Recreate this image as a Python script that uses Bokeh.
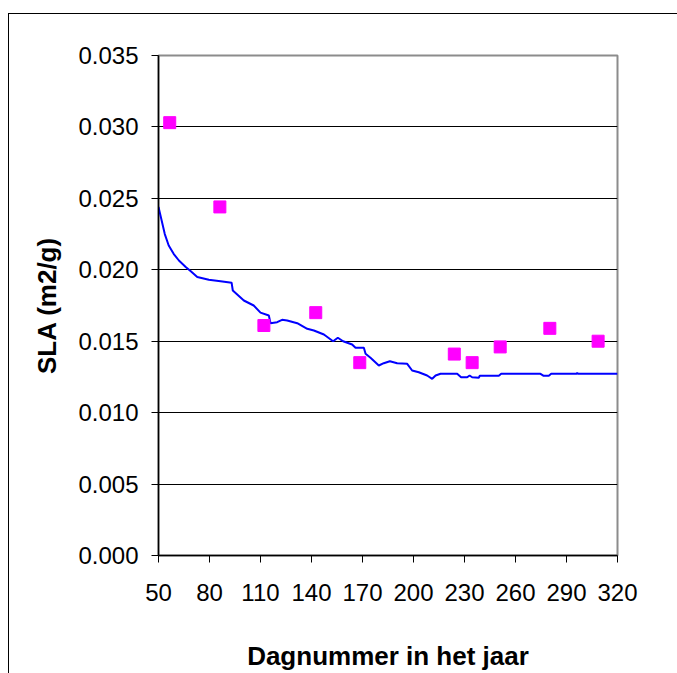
from bokeh.plotting import figure
from bokeh.models import FixedTicker, NumeralTickFormatter, Range1d
from bokeh.embed import file_html
from bokeh.resources import INLINE

# Measured SLA (squares)
obs_day = [56.6, 86.1, 112.0, 142.5, 168.4, 224.0, 234.5, 251.0, 280.2, 308.6]
obs_sla = [0.0303, 0.0244, 0.0161, 0.0170, 0.0135, 0.0141, 0.0135, 0.0146, 0.0159, 0.0150]

# Simulated SLA (line)
sim_day = [50, 53.7, 56, 59, 62, 66, 69, 72.8, 79.6, 86.5, 93, 93.7, 100.2, 106, 110,
           114.9, 115.9, 119.8, 122.7, 125.7, 131.6, 137.5, 141.4, 147.3, 152.7, 155.5,
           158.6, 163.9, 165.9, 170.8, 171.8, 174.7, 179.6, 182.5, 186.1, 190.4, 196.3,
           199.2, 203.1, 208, 211, 213, 215.9, 225.7, 228, 231.6, 233, 234.5, 238.4, 239,
           250.2, 251.6, 274.7, 276.6, 279.6, 281, 296, 296.3, 296.6, 320]
sim_sla = [0.0244, 0.0225, 0.0217, 0.0211, 0.02065, 0.0202, 0.0199, 0.0195, 0.0193, 0.0192,
           0.0191, 0.01855, 0.01785, 0.0175, 0.0170, 0.0168, 0.01626, 0.01633, 0.0165,
           0.01645, 0.01626, 0.01587, 0.01575, 0.01547, 0.0150, 0.01524, 0.0150, 0.01477,
           0.01454, 0.01454, 0.01412, 0.01384, 0.0133, 0.01346, 0.0136, 0.01346, 0.01342,
           0.01295, 0.01283, 0.0126, 0.01237, 0.0126, 0.01272, 0.01272, 0.01248, 0.01248,
           0.0126, 0.01248, 0.01244, 0.01258, 0.01258, 0.01272, 0.01272, 0.01258, 0.01258,
           0.01272, 0.01272, 0.0128, 0.01272, 0.01272]

x_ticks = [50, 80, 110, 140, 170, 200, 230, 260, 290, 320]
y_ticks = [0.0, 0.005, 0.010, 0.015, 0.020, 0.025, 0.030, 0.035]

FONT = "Liberation Sans"

p = figure(frame_width=459, frame_height=500,
           min_border_left=149, min_border_right=60,
           min_border_top=41, min_border_bottom=118,
           x_range=Range1d(50, 320), y_range=Range1d(0, 0.035),
           output_backend="svg", toolbar_location=None)
p.styles = {"border-left": "1px solid #000000", "border-top": "1px solid #000000",
            "margin-top": "13px", "margin-left": "8px"}

p.background_fill_color = "white"
p.border_fill_color = "white"
p.outline_line_color = "#8c8c8c"
p.outline_line_width = 2

p.xgrid.visible = False
p.ygrid.grid_line_color = "black"
p.ygrid.grid_line_width = 1
p.ygrid.ticker = FixedTicker(ticks=y_ticks)

p.xaxis.ticker = FixedTicker(ticks=x_ticks)
p.yaxis.ticker = FixedTicker(ticks=y_ticks)
p.yaxis.formatter = NumeralTickFormatter(format="0.000")

for ax in (p.xaxis, p.yaxis):
    ax.axis_line_color = "black"
    ax.axis_line_width = 1.5
    ax.major_tick_line_color = "black"
    ax.major_tick_out = 7
    ax.major_tick_in = 0
    ax.minor_tick_line_color = None
    ax.major_label_text_font = FONT
    ax.major_label_text_font_size = "24px"
    ax.major_label_text_color = "black"
    ax.axis_label_text_font = FONT
    ax.axis_label_text_font_size = "26px"
    ax.axis_label_text_font_style = "bold"
    ax.axis_label_text_color = "black"

p.xaxis.axis_label = "Dagnummer in het jaar"
p.yaxis.axis_label = "SLA (m2/g)"
p.xaxis.major_label_standoff = 21
p.yaxis.major_label_standoff = 13
p.xaxis.axis_label_standoff = 37
p.yaxis.axis_label_standoff = 13

p.line(sim_day, sim_sla, line_color="#0000ff", line_width=2)
p.scatter(obs_day, obs_sla, marker="square", size=12,
          fill_color="#ff00ff", line_color="#ff00ff")

open("out.html", "w").write(file_html(p, INLINE))
